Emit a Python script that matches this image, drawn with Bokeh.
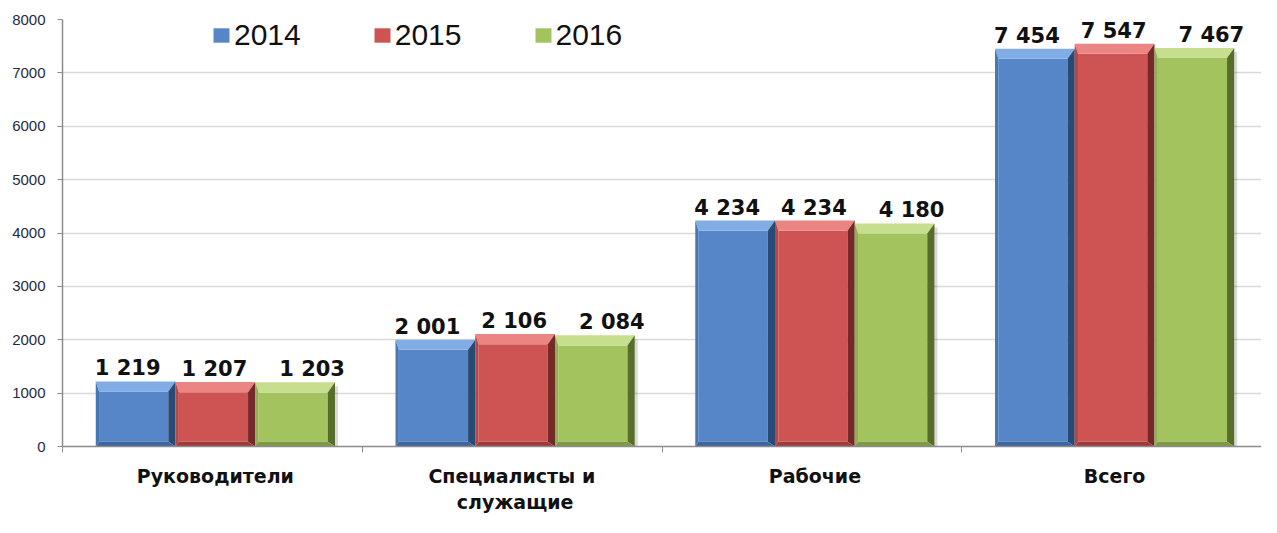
from bokeh.plotting import figure
from bokeh.models import ColumnDataSource, Range1d, FixedTicker, Legend, LegendItem
from bokeh.embed import file_html
from bokeh.resources import INLINE
from bokeh.core.properties import value

categories = ["Руководители", "Специалисты  и\nслужащие", "Рабочие", "Всего"]
years = ["2014", "2015", "2016"]
v2014 = [1219, 2001, 4234, 7454]
v2015 = [1207, 2106, 4234, 7547]
v2016 = [1203, 2084, 4180, 7467]
labels2014 = ["1 219", "2 001", "4 234", "7 454"]
labels2015 = ["1 207", "2 106", "4 234", "7 547"]
labels2016 = ["1 203", "2 084", "4 180", "7 467"]
y_ticks = [0, 1000, 2000, 3000, 4000, 5000, 6000, 7000, 8000]

series = [v2014, v2015, v2016]
series_labels = [labels2014, labels2015, labels2016]

# face, top bevel, left edge, right shade, bottom shade
palettes = [
    ("#5686C8", "#82ACE4", "#4676B6", "#2A4A76", "#3C66A0"),
    ("#CD5452", "#EB8583", "#BA4644", "#742A28", "#9C3D3B"),
    ("#A3C35E", "#C6DE8E", "#91B04F", "#586D2C", "#7E9A44"),
]
label_dx = [-8, -1, 17]

p = figure(width=1261, height=517, output_backend="svg", toolbar_location=None,
           x_range=Range1d(0, 4), y_range=Range1d(0, 8000),
           min_border_left=62, min_border_right=0, min_border_top=19, min_border_bottom=71)
p.outline_line_color = None
p.background_fill_color = "white"

group_c = 0.51
bw = 0.266
dxl = 0.011
dxr = 0.024
dyt = 190
dyb = 90

legend_items = []
for s, vals in enumerate(series):
    face, top, left, right, bottom = palettes[s]
    xs_f, ys_f, xs_t, ys_t, xs_l, ys_l, xs_r, ys_r, xs_b, ys_b = ([] for _ in range(10))
    xs_sh, ys_sh = [], []
    for i, v in enumerate(vals):
        xc = i + group_c + (s - 1) * bw
        L, R, T, B = xc - bw / 2, xc + bw / 2, v, 0
        xs_t.append([L, R, R - dxr, L + dxl]); ys_t.append([T, T, T - dyt, T - dyt])
        xs_l.append([L, L + dxl, L + dxl, L]); ys_l.append([B, B + dyb, T - dyt, T])
        xs_r.append([R, R, R - dxr, R - dxr]); ys_r.append([T, B, B + dyb, T - dyt])
        xs_b.append([L, R, R - dxr, L + dxl]); ys_b.append([B, B, B + dyb, B + dyb])
        xs_f.append([L + dxl, R - dxr, R - dxr, L + dxl]); ys_f.append([B + dyb, B + dyb, T - dyt, T - dyt])
        xs_sh.append([R, R + 0.01, R + 0.01, R]); ys_sh.append([B, B, T - dyt * 0.4, T - dyt * 0.4])
    p.patches(xs_sh, ys_sh, fill_color="#000000", fill_alpha=0.15, line_alpha=0)
    fr = p.patches(xs_f, ys_f, fill_color=face, line_alpha=0)
    p.patches(xs_t, ys_t, fill_color=top, line_alpha=0)
    p.patches(xs_l, ys_l, fill_color=left, line_alpha=0)
    p.patches(xs_r, ys_r, fill_color=right, line_alpha=0)
    p.patches(xs_b, ys_b, fill_color=bottom, line_alpha=0)
    legend_items.append(LegendItem(label=years[s], renderers=[fr]))

    src = ColumnDataSource(dict(x=[i + group_c + (s - 1) * bw for i in range(len(vals))],
                                y=vals, t=series_labels[s]))
    p.text(x="x", y="y", text="t", source=src, text_align="center",
           text_baseline="bottom", y_offset=-1, x_offset=label_dx[s],
           text_font=value("DejaVu Sans"), text_font_style="bold",
           text_font_size="21px", text_color="#111111")

# axes
p.yaxis.ticker = FixedTicker(ticks=y_ticks)
p.yaxis.axis_line_color = "#8C8C8C"
p.yaxis.axis_line_width = 1.5
p.yaxis.major_tick_line_color = "#8C8C8C"
p.yaxis.major_tick_out = 5
p.yaxis.major_tick_in = 0
p.yaxis.minor_tick_line_color = None
p.yaxis.major_label_standoff = 12
p.yaxis.major_label_text_font = "Liberation Sans"
p.yaxis.major_label_text_font_size = "15px"
p.yaxis.major_label_text_color = "#1F2A44"

p.xaxis.ticker = FixedTicker(ticks=[i + group_c for i in range(len(categories))],
                             minor_ticks=[0, 1, 2, 3, 4])
p.xaxis.major_label_overrides = {i + group_c: c for i, c in enumerate(categories)}
p.xaxis.axis_line_color = "#8C8C8C"
p.xaxis.axis_line_width = 1.5
p.xaxis.major_tick_line_color = None
p.xaxis.major_tick_out = 0
p.xaxis.major_tick_in = 0
p.xaxis.minor_tick_line_color = "#8C8C8C"
p.xaxis.minor_tick_out = 6
p.xaxis.minor_tick_in = 0
p.xaxis.major_label_standoff = 12
p.xaxis.major_label_text_font = "DejaVu Sans"
p.xaxis.major_label_text_font_style = "bold"
p.xaxis.major_label_text_font_size = "19px"
p.xaxis.major_label_text_color = "#111111"

p.xgrid.grid_line_color = None
p.ygrid.ticker = FixedTicker(ticks=y_ticks[1:])
p.ygrid.grid_line_color = "#D9D9D9"
p.ygrid.grid_line_width = 1.5

legend = Legend(items=legend_items, orientation="horizontal", location=(149, 394),
                glyph_width=20, glyph_height=18, label_standoff=3, spacing=71,
                padding=0, margin=0, border_line_color=None, background_fill_alpha=0,
                label_text_font="Liberation Sans", label_text_font_size="30px",
                label_text_color="#111111")
p.add_layout(legend)

open("out.html", "w").write(file_html(p, INLINE))
